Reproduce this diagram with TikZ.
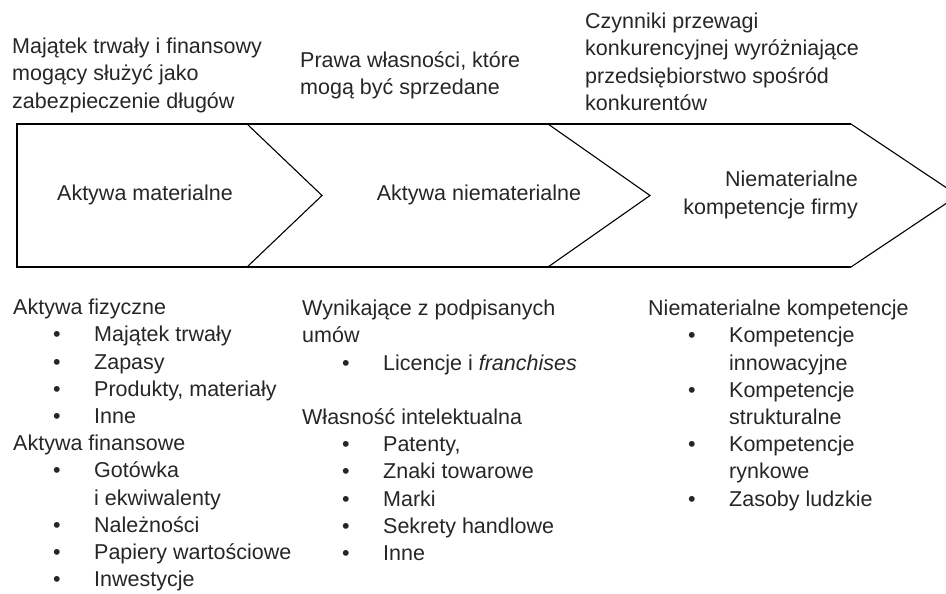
\documentclass[tikz,border=0pt]{standalone}
\usepackage{fontspec}
\setmainfont{Liberation Sans}
\usepackage{tikz}
\usetikzlibrary{positioning}

\tikzstyle{chevron}  = [draw=black, line width=1.1pt, line join=miter]
\tikzstyle{chevtext} = [inner sep=0pt, text=black!85, font=\fontsize{21.5}{27.2}\selectfont]
\tikzstyle{note}     = [chevtext, anchor=north west, align=left]
\newcommand{\pkt}[1]{\hspace*{40pt}\makebox[41pt][l]{\textbullet}#1}
\newcommand{\dalej}[1]{\hspace*{81pt}#1}

\begin{document}
\begin{tikzpicture}[x=1pt, y=-1pt]
\useasboundingbox (0,0) rectangle (946,594);
\clip (0,0) rectangle (946,594);

% chevrons
\draw [chevron] (851,124) -- (17,124) -- (17,267) -- (851,267);
\draw [chevron] (247,124) -- (322,195.5) -- (247,267);
\draw [chevron] (548,124) -- (650,195.5) -- (548,267);
\draw [chevron] (851,124) -- (958,195.5) -- (851,267);

\node (mat)    [chevtext] at (145,195) {Aktywa materialne};
\node (niemat) [chevtext] at (479,195) {Aktywa niematerialne};
\node (komp)   [chevtext, align=right, anchor=east] at (858,195) {Niematerialne\\kompetencje firmy};

% descriptions above
\node (opismat)    [note] at (12,38)  {Majątek trwały i finansowy\\mogący służyć jako\\zabezpieczenie długów};
\node (opisniemat) [note] at (300,51) {Prawa własności, które\\mogą być sprzedane};
\node (opiskomp)   [note] at (585,13) {Czynniki przewagi\\konkurencyjnej wyróżniające\\przedsiębiorstwo spośród\\konkurentów};

% lists below
\node (listmat) [note] at (13,299) {Aktywa fizyczne\\
  \pkt{Majątek trwały}\\
  \pkt{Zapasy}\\
  \pkt{Produkty, materiały}\\
  \pkt{Inne}\\
  Aktywa finansowe\\
  \pkt{Gotówka}\\
  \dalej{i ekwiwalenty}\\
  \pkt{Należności}\\
  \pkt{Papiery wartościowe}\\
  \pkt{Inwestycje}};
\node (listniemat) [note] at (302,300) {Wynikające z podpisanych\\
  umów\\
  \pkt{Licencje i \textit{franchises}}\\[27.2pt]
  Własność intelektualna\\
  \pkt{Patenty,}\\
  \pkt{Znaki towarowe}\\
  \pkt{Marki}\\
  \pkt{Sekrety handlowe}\\
  \pkt{Inne}};
\node (listkomp) [note] at (648,300) {Niematerialne kompetencje\\
  \pkt{Kompetencje}\\
  \dalej{innowacyjne}\\
  \pkt{Kompetencje}\\
  \dalej{strukturalne}\\
  \pkt{Kompetencje}\\
  \dalej{rynkowe}\\
  \pkt{Zasoby ludzkie}};

\end{tikzpicture}
\end{document}
